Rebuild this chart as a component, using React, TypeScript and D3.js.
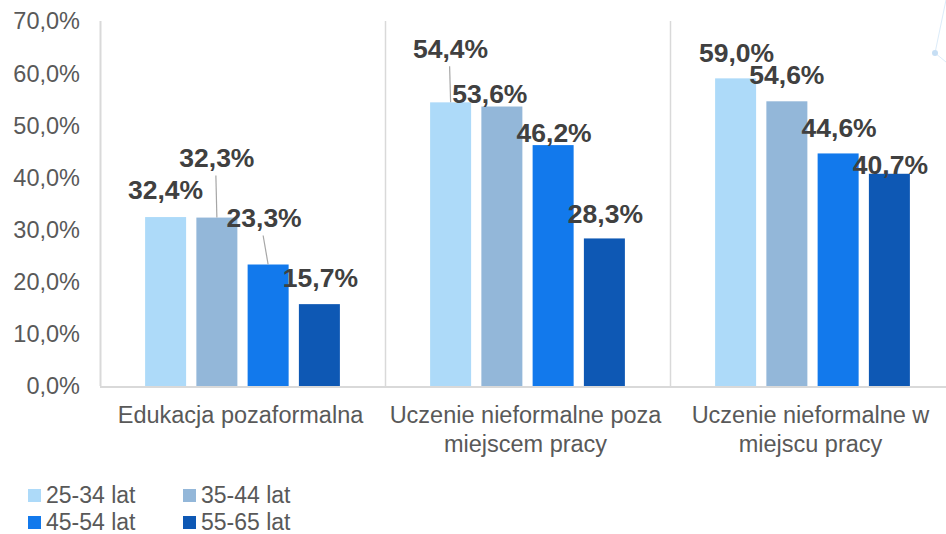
import React from "react";
import * as d3 from "d3";

const categories = [
  "Edukacja pozaformalna",
  "Uczenie nieformalne poza miejscem pracy",
  "Uczenie nieformalne w miejscu pracy",
];
const seriesNames = ["25-34 lat", "35-44 lat", "45-54 lat", "55-65 lat"];
const values25 = [32.4, 54.4, 59.0];
const values35 = [32.3, 53.6, 54.6];
const values45 = [23.3, 46.2, 44.6];
const values55 = [15.7, 28.3, 40.7];
const yTicks = [0, 10, 20, 30, 40, 50, 60, 70];

const COLORS = ["#addaf9", "#93b7d9", "#1279ec", "#0e58b4"];

// hand-placed data labels (px offset from bar centre / bar top), like the Excel original
const LABEL_OFFSETS: [number, number, boolean][][] = [
  [[0, -28, false], [0, -60, true], [-4, -47, true], [1, -27, false]],
  [[0, -54, true], [-12, -13, false], [1, -13, false], [1, -25, false]],
  [[1, -26, false], [0, -27, false], [1, -26, false], [1, -9, false]],
];

const FONT = "'Liberation Sans', Arial, sans-serif";

function wrap(label: string, maxChars: number) {
  const lines: string[] = [];
  let cur = "";
  label.split(" ").forEach((w) => {
    const next = cur ? cur + " " + w : w;
    if (next.length > maxChars && cur) {
      lines.push(cur);
      cur = w;
    } else cur = next;
  });
  if (cur) lines.push(cur);
  return lines;
}

export default function App() {
  const width = 946;
  const height = 534;
  const MARGIN = { top: 21, left: 100, bottom: 148 };
  const plotRight = 955;
  const baseY = height - MARGIN.bottom;

  const allValues = [values25, values35, values45, values55];

  const xScale = d3.scaleBand().domain(categories).range([MARGIN.left, plotRight]);
  const xInner = d3
    .scaleBand()
    .domain(seriesNames)
    .range([0, xScale.bandwidth()])
    .paddingInner(0.2)
    .paddingOuter(0.88);
  const yScale = d3.scaleLinear().domain([0, 70]).range([baseY, MARGIN.top]);

  const fmt = (v: number) => v.toFixed(1).replace(".", ",") + "%";

  return (
    <svg
      width={width}
      height={height}
      style={{ position: "absolute", left: 0, top: 0, background: "#fff" }}
      fontFamily={FONT}
    >
      {/* faint background decoration, top right */}
      <g opacity={0.35}>
        <line x1={935} y1={53} x2={946} y2={0} stroke="#9cc8ee" strokeWidth={1} />
        <line x1={935} y1={53} x2={946} y2={62} stroke="#9cc8ee" strokeWidth={1} />
        <circle cx={935} cy={53} r={3} fill="#5fa3e0" />
      </g>

      {/* category separators */}
      {categories.map((c, i) => (
        <line
          key={c}
          x1={(xScale(c) ?? 0) + 0.5}
          x2={(xScale(c) ?? 0) + 0.5}
          y1={MARGIN.top}
          y2={baseY}
          stroke="#d9d9d9"
          strokeWidth={i === 0 ? 2 : 1.5}
        />
      ))}

      {/* y tick labels */}
      {yTicks.map((t) => (
        <text
          key={t}
          x={80}
          y={yScale(t)}
          dy="0.36em"
          textAnchor="end"
          fontSize={23.5}
          fill="#595959"
        >
          {t.toFixed(1).replace(".", ",") + "%"}
        </text>
      ))}

      {/* bars */}
      {categories.map((c, ci) =>
        seriesNames.map((s, si) => {
          const v = allValues[si][ci];
          const x = (xScale(c) ?? 0) + (xInner(s) ?? 0);
          return (
            <rect
              key={c + s}
              x={x}
              y={yScale(v)}
              width={xInner.bandwidth()}
              height={baseY - yScale(v)}
              fill={COLORS[si]}
            />
          );
        })
      )}

      {/* x axis line */}
      <line x1={MARGIN.left} x2={width} y1={baseY + 1} y2={baseY + 1} stroke="#d9d9d9" strokeWidth={2} />

      {/* data labels with leader lines */}
      {categories.map((c, ci) =>
        seriesNames.map((s, si) => {
          const v = allValues[si][ci];
          const cx = (xScale(c) ?? 0) + (xInner(s) ?? 0) + xInner.bandwidth() / 2;
          const top = yScale(v);
          const [dx, dy, leader] = LABEL_OFFSETS[ci][si];
          const lx = cx + dx;
          const ly = top + dy;
          return (
            <g key={"l" + c + s}>
              {leader && (
                <line x1={lx - 1} y1={ly + 18} x2={cx} y2={top} stroke="#a6a6a6" strokeWidth={1.2} />
              )}
              <text
                x={lx}
                y={ly}
                dy="0.36em"
                textAnchor="middle"
                fontSize={26.5}
                fontWeight="bold"
                fill="#404040"
              >
                {fmt(v)}
              </text>
            </g>
          );
        })
      )}

      {/* category labels */}
      {categories.map((c) => {
        const cx = (xScale(c) ?? 0) + xScale.bandwidth() / 2 - 2;
        return (
          <text key={"c" + c} textAnchor="middle" fontSize={23.5} fill="#595959">
            {wrap(c, 24).map((line, li) => (
              <tspan key={li} x={cx} y={423 + li * 29}>
                {line}
              </tspan>
            ))}
          </text>
        );
      })}

      {/* legend */}
      {seriesNames.map((s, i) => {
        const col = i % 2;
        const row = Math.floor(i / 2);
        const x = 28 + col * 155;
        const y = 489 + row * 27;
        return (
          <g key={"lg" + s}>
            <rect x={x} y={y} width={13} height={13} fill={COLORS[i]} />
            <text x={x + 18} y={y + 13.5} fontSize={23} fill="#595959">
              {s}
            </text>
          </g>
        );
      })}
    </svg>
  );
}
